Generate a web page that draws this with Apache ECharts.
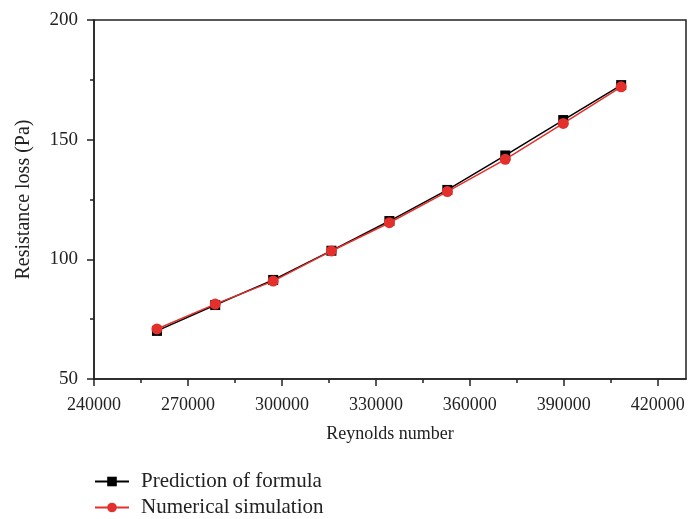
<!DOCTYPE html>
<html>
<head>
<meta charset="utf-8">
<script src="https://cdn.jsdelivr.net/npm/echarts@6/dist/echarts.min.js"></script>
<style>
  html, body { margin: 0; padding: 0; background: #fff; }
  #chart { width: 689px; height: 519px; }
</style>
</head>
<body>
<div id="chart"></div>
<script>
// Reynolds numbers of the test cases
const reynolds = [260100, 278700, 297200, 315800, 334300, 352800, 371300, 389800, 408300];
// Resistance loss (Pa) from the fitted formula
const formulaLoss = [70.1, 80.9, 91.4, 103.6, 116.0, 129.0, 143.4, 158.2, 172.8];
// Resistance loss (Pa) from the CFD runs
const simulationLoss = [70.9, 81.3, 90.9, 103.5, 115.3, 128.3, 141.8, 156.8, 172.1];

const xMajorTicks = [240000, 270000, 300000, 330000, 360000, 390000, 420000];
const xMinorTicks = [255000, 285000, 315000, 345000, 375000, 405000];
const seriesNames = ['Prediction of formula', 'Numerical simulation'];

const FONT = '"Liberation Serif", "DejaVu Serif", serif';
const INK = '#222';
const RED = '#e3302c';

const pairs = (xs, ys) => xs.map((x, i) => [x, ys[i]]);

const chart = echarts.init(document.getElementById('chart'), null, { renderer: 'canvas' });
chart.setOption({
  backgroundColor: '#fff',
  animation: false,
  grid: {
    left: 94, right: 3, top: 20, bottom: 140,
    show: true, borderColor: INK, borderWidth: 1.5, backgroundColor: 'transparent'
  },
  xAxis: [
    {
      type: 'value', min: 240000, max: 429000, interval: 30000,
      position: 'bottom',
      name: 'Reynolds number', nameLocation: 'middle', nameGap: 46,
      nameTextStyle: { fontFamily: FONT, fontSize: 18, color: INK },
      axisLine: { show: true, lineStyle: { color: INK, width: 1.5 } },
      axisTick: { show: true, inside: false, length: 7, customValues: xMajorTicks, lineStyle: { color: INK, width: 1.5 } },
      axisLabel: {
        customValues: xMajorTicks, margin: 17,
        fontFamily: FONT, fontSize: 18, color: INK,
        formatter: v => String(v)
      },
      splitLine: { show: false }
    },
    {
      type: 'value', min: 240000, max: 429000, interval: 30000,
      position: 'bottom', offset: 0,
      axisLine: { show: false },
      axisTick: { show: true, inside: false, length: 4, customValues: xMinorTicks, lineStyle: { color: INK, width: 1.5 } },
      axisLabel: { show: false },
      splitLine: { show: false }
    }
  ],
  yAxis: {
    type: 'value', min: 50, max: 200, interval: 50,
    name: 'Resistance loss (Pa)', nameLocation: 'middle', nameGap: 60,
    nameTextStyle: { fontFamily: FONT, fontSize: 20, color: INK },
    axisLine: { show: true, lineStyle: { color: INK, width: 1.5 } },
    axisTick: { show: true, inside: false, length: 7, lineStyle: { color: INK, width: 1.5 } },
    minorTick: { show: true, splitNumber: 2, length: 4, lineStyle: { color: INK, width: 1.5 } },
    axisLabel: { margin: 16, fontFamily: FONT, fontSize: 19, color: INK },
    splitLine: { show: false }
  },
  legend: {
    orient: 'vertical', left: 94, top: 471, padding: 0,
    itemWidth: 34, itemHeight: 12, itemGap: 5,
    textStyle: { fontFamily: FONT, fontSize: 21, color: INK, lineHeight: 21, padding: [0, 0, 0, 7] },
    data: seriesNames
  },
  series: [
    {
      name: seriesNames[0], type: 'line', xAxisIndex: 0,
      data: pairs(reynolds, formulaLoss),
      symbol: 'rect', symbolSize: 10,
      lineStyle: { color: '#000', width: 1.5 },
      itemStyle: { color: '#000' },
      z: 2
    },
    {
      name: seriesNames[1], type: 'line', xAxisIndex: 0,
      data: pairs(reynolds, simulationLoss),
      symbol: 'circle', symbolSize: 11,
      lineStyle: { color: RED, width: 1.5 },
      itemStyle: { color: RED },
      z: 3
    }
  ]
});
</script>
</body>
</html>
